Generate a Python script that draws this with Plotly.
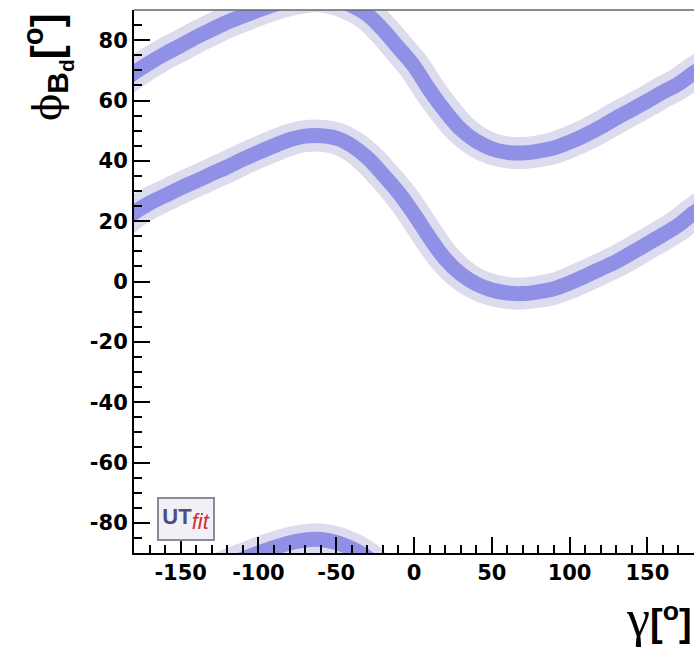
import plotly.graph_objects as go

# ---- data (gamma in degrees, phi_Bd in degrees) ----
gamma = [-180, -170, -160, -150, -140, -130, -120, -110, -100, -90, -80, -70, -60,
         -50, -40, -30, -20, -10, 0, 10, 20, 30, 40, 50, 60, 70, 80, 90, 100,
         110, 120, 130, 140, 150, 160, 170, 180]
phi_lower = [22.8, 26.0, 28.5, 31.0, 33.3, 35.7, 38.0, 40.5, 42.8, 45.0, 47.0, 48.2, 48.3,
             47.5, 45.0, 41.0, 35.5, 29.5, 22.4, 14.5, 7.5, 2.5, -0.8, -2.8, -3.8, -4.0, -3.4,
             -2.4, -0.5, 1.8, 4.2, 6.6, 9.5, 12.5, 15.5, 18.7, 22.8]
phi_upper = [69.2, 72.5, 75.5, 78.2, 81.0, 83.5, 86.0, 88.0, 90.0, 91.8, 93.3, 94.3, 94.5,
             93.5, 91.5, 88.5, 83.5, 77.5, 71.4, 63.5, 56.5, 50.5, 46.5, 44.0, 42.8, 42.6, 43.2,
             44.3, 46.2, 48.5, 51.2, 54.2, 57.0, 59.8, 62.8, 65.5, 69.2]

x_ticks = [-150, -100, -50, 0, 50, 100, 150]
x_ticktext = ["-150", "-100", "-50", "0", "50", "100", "150"]
y_ticks = [-80, -60, -40, -20, 0, 20, 40, 60, 80]
y_ticktext = ["-80", "-60", "-40", "-20", "0", "20", "40", "60", "80"]


def periodic(g, p):
    # gamma is an angle: the curve at -180 and +180 is the same point, so extend one period step
    gx = [g[-3] - 360, g[-2] - 360] + g + [g[1] + 360, g[2] + 360]
    px = [p[-3], p[-2]] + p + [p[1], p[2]]
    return gx, px


g_low, p_low = periodic(gamma, phi_lower)
g_up, p_up = periodic(gamma, phi_upper)
p_wrap = [v - 180 for v in p_up]  # phi is defined modulo 180

LIGHT = "#dcdcee"
DARK = "#9090e6"

fig = go.Figure()
curves = [(g_up, p_up), (g_low, p_low), (g_up, p_wrap)]
for gx, px in curves:
    fig.add_trace(go.Scatter(x=gx, y=px, mode="lines", line=dict(color=LIGHT, width=32, shape="spline"),
                             hoverinfo="skip", showlegend=False))
for gx, px in curves:
    fig.add_trace(go.Scatter(x=gx, y=px, mode="lines", line=dict(color=DARK, width=15, shape="spline"),
                             hoverinfo="skip", showlegend=False))

tickfont = dict(family="DejaVu Sans", size=21, color="black", weight="bold")

fig.update_xaxes(range=[-180, 180], showline=True, linecolor="black", linewidth=2,
                 showgrid=False, zeroline=False, ticks="inside", ticklen=16, tickwidth=2,
                 tickcolor="black", tickvals=x_ticks, ticktext=x_ticktext, tickfont=tickfont,
                 minor=dict(ticks="inside", ticklen=8, tickwidth=2, tickcolor="black",
                            tick0=0, dtick=10, showgrid=False))
fig.update_yaxes(range=[-90, 90], showline=True, linecolor="black", linewidth=2,
                 showgrid=False, zeroline=False, ticks="inside", ticklen=16, tickwidth=2,
                 tickcolor="black", tickvals=y_ticks, ticktext=y_ticktext, tickfont=tickfont,
                 minor=dict(ticks="inside", ticklen=8, tickwidth=2, tickcolor="black",
                            tick0=0, dtick=5, showgrid=False))

# top frame line
fig.add_shape(type="line", xref="paper", yref="paper", x0=0, x1=1, y0=1, y1=1,
              line=dict(color="#666666", width=1.5))

# y-axis title (top-aligned, rotated)
fig.add_annotation(
    xref="paper", yref="paper", x=(47 - 134) / 560, y=1, xanchor="center", yanchor="top",
    yshift=-1, textangle=-90, showarrow=False,
    text='<span style="font-family:DejaVu Serif;font-size:40px">ϕ</span>'
         '<sub><span style="font-family:Liberation Sans;font-weight:bold;font-size:30px">B'
         '<sub>d</sub></span></sub>'
         '<span style="font-family:Liberation Sans;font-weight:bold;font-size:42px">[<sup>o</sup>]</span>',
    font=dict(family="Liberation Sans", size=36, color="black"))

# x-axis title (right-aligned, below axis)
fig.add_annotation(
    xref="paper", yref="paper", x=1, y=(553 - 651) / 543, xanchor="right", yanchor="bottom",
    yshift=2, showarrow=False,
    text='<span style="font-family:Liberation Serif;font-size:52px">γ</span>'
         '<span style="font-family:Liberation Sans;font-weight:bold;font-size:38px">[<sup>o</sup>]</span>',
    font=dict(family="Liberation Sans", size=38, color="black"))

# UTfit logo
fig.add_annotation(
    xref="paper", yref="paper", x=(157 - 134) / 560, y=(553 - 541) / 543,
    xanchor="left", yanchor="bottom", showarrow=False,
    width=54, height=40, borderwidth=2, bordercolor="#8a8a9a", bgcolor="#f0f0f6", borderpad=0,
    text='<span style="color:#4a4f7c;font-weight:bold;font-size:22px">UT</span>'
         '<sub><span style="color:#d0303a;font-style:italic;font-size:22px">fit</span></sub>',
    font=dict(family="Liberation Sans", size=22))

fig.update_layout(width=694, height=651, margin=dict(l=134, r=0, t=10, b=98),
                  paper_bgcolor="white", plot_bgcolor="white")

fig.write_html("out.html")
